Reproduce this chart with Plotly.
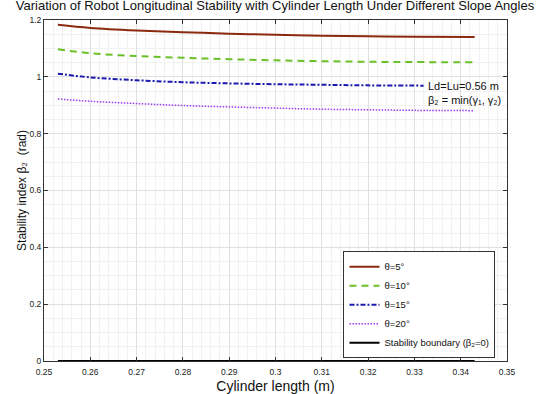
import plotly.graph_objects as go

# Data
x_len = [0.253, 0.26, 0.27, 0.28, 0.29, 0.30, 0.31, 0.32, 0.33, 0.343]
beta_5 = [1.183, 1.172, 1.163, 1.157, 1.152, 1.148, 1.145, 1.143, 1.141, 1.140]
beta_10 = [1.097, 1.083, 1.073, 1.067, 1.062, 1.058, 1.055, 1.053, 1.052, 1.051]
x_len15 = [0.253, 0.26, 0.27, 0.28, 0.29, 0.30, 0.31, 0.32, 0.332]
beta_15 = [1.011, 0.998, 0.988, 0.981, 0.977, 0.974, 0.972, 0.970, 0.969]
beta_20 = [0.922, 0.914, 0.906, 0.899, 0.894, 0.890, 0.886, 0.884, 0.882, 0.881]
boundary_x = [0.253, 0.343]
boundary_y = [0, 0]

x_ticks = [0.25, 0.26, 0.27, 0.28, 0.29, 0.30, 0.31, 0.32, 0.33, 0.34, 0.35]
x_ticktext = ["0.25", "0.26", "0.27", "0.28", "0.29", "0.3", "0.31", "0.32", "0.33", "0.34", "0.35"]
y_ticks = [0, 0.2, 0.4, 0.6, 0.8, 1.0, 1.2]
y_ticktext = ["0", "0.2", "0.4", "0.6", "0.8", "1", "1.2"]

FONT = "Liberation Sans, Arial, sans-serif"

fig = go.Figure()
fig.add_trace(go.Scatter(x=x_len, y=beta_5, mode="lines", name="θ=5°",
                         line=dict(color="#8b2a10", width=2, shape="spline")))
fig.add_trace(go.Scatter(x=x_len, y=beta_10, mode="lines", name="θ=10°",
                         line=dict(color="#6cc02a", width=2, dash="7px,5px", shape="spline")))
fig.add_trace(go.Scatter(x=x_len15, y=beta_15, mode="lines", name="θ=15°",
                         line=dict(color="#1a1ab0", width=2, dash="5px,2px,2px,2px", shape="spline")))
fig.add_trace(go.Scatter(x=x_len, y=beta_20, mode="lines", name="θ=20°",
                         line=dict(color="#9a3cf0", width=1.5, dash="1.5px,1.5px", shape="spline")))
fig.add_trace(go.Scatter(x=boundary_x, y=boundary_y, mode="lines", name="Stability boundary (β₂=0)",
                         line=dict(color="#000000", width=2)))

fig.add_annotation(x=0.3326, y=0.969, xref="x", yref="y", text="Ld=Lu=0.56 m",
                   showarrow=False, xanchor="left", yanchor="middle",
                   font=dict(family=FONT, size=11, color="#111"))
fig.add_annotation(x=0.3326, y=0.918, xref="x", yref="y", text="β₂ = min(γ₁, γ₂)",
                   showarrow=False, xanchor="left", yanchor="middle",
                   font=dict(family=FONT, size=11, color="#111"))

axis_common = dict(showline=True, linecolor="#333", linewidth=1, mirror="ticks",
                   ticks="inside", ticklen=4, tickcolor="#333",
                   showgrid=True, gridcolor="#e0e0e0", gridwidth=1, zeroline=False,
                   tickfont=dict(family=FONT, size=8.5, color="#222"))

fig.update_xaxes(range=[0.25, 0.35], tickvals=x_ticks, ticktext=x_ticktext,
                 ticklabelstandoff=3, automargin=False,
                 minor=dict(dtick=0.002, showgrid=True, gridcolor="#f1f1f1", ticks=""),
                 title=dict(text="Cylinder length (m)", font=dict(family=FONT, size=14, color="#111")),
                 **axis_common)
fig.update_yaxes(range=[0, 1.2], tickvals=y_ticks, ticktext=y_ticktext,
                 automargin=True,
                 minor=dict(dtick=0.05, showgrid=True, gridcolor="#f1f1f1", ticks=""),
                 title=dict(text="Stability index β₂  (rad)", font=dict(family=FONT, size=12, color="#111"), standoff=0),
                 **axis_common)

fig.update_layout(
    width=550, height=394,
    margin=dict(l=44, r=43, t=20, b=33, autoexpand=False),
    paper_bgcolor="white", plot_bgcolor="white",
    title=dict(text="Variation of Robot Longitudinal Stability with Cylinder Length Under Different Slope Angles",
               x=0.5, xanchor="center", y=0.997, yanchor="top", automargin=False,
               font=dict(family=FONT, size=13, color="#111")),
    legend=dict(x=0.811, y=0.008, xanchor="center", yanchor="bottom",
                bgcolor="white", bordercolor="#333", borderwidth=1,
                font=dict(family=FONT, size=9.5, color="#111"),
                itemwidth=30, tracegroupgap=0),
    showlegend=True,
)

# remove the browser's default 8px page margin so the 550x394 figure fills the window
fig.write_html("out.html", config={"displayModeBar": False},
               post_script="document.body.style.margin='0px';")
